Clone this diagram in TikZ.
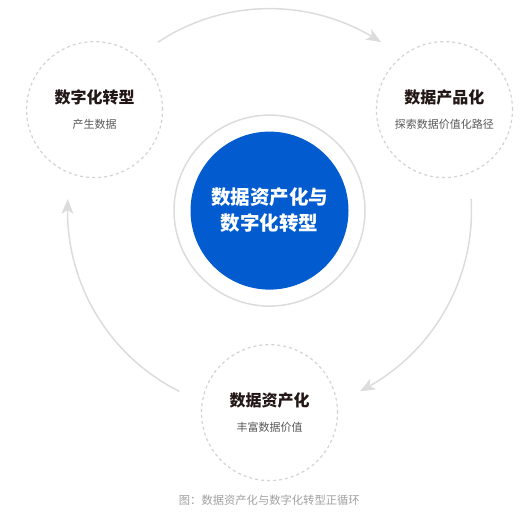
\documentclass[tikz,border=0pt]{standalone}
\usepackage{fontspec}
\newfontfamily\cjk{Noto Sans CJK SC}
\usetikzlibrary{arrows.meta,bending}
\definecolor{coreblue}{HTML}{025CCF}
\definecolor{titlec}{HTML}{231815}
\definecolor{subc}{HTML}{595757}
\definecolor{capc}{HTML}{A0A0A0}
\definecolor{linec}{HTML}{DCDCDC}
\definecolor{dashc}{HTML}{D3D3D3}
\tikzset{
  corecircle/.style={circle, fill=coreblue, minimum size=158pt, inner sep=0pt, text=white, align=center, font=\cjk\bfseries\fontsize{19.5pt}{26pt}\selectfont},
  ringline/.style={draw=linec, line width=1.5pt},
  stagecircle/.style={circle, draw=dashc, line width=1.2pt, dash pattern=on 3pt off 3pt, minimum size=136pt, inner sep=0pt},
  stagetitle/.style={text=titlec, font=\cjk\bfseries\fontsize{16pt}{18pt}\selectfont, inner sep=0pt},
  stagesub/.style={text=subc, font=\cjk\fontsize{11pt}{13pt}\selectfont, inner sep=0pt},
  cycarrow/.style={draw=linec, line width=1.5pt, -{Stealth[length=15pt, width=12pt, inset=4pt, bend]}},
  captext/.style={text=capc, font=\cjk\fontsize{11.3pt}{13pt}\selectfont, inner sep=0pt}
}
\begin{document}
\begin{tikzpicture}[x=1pt,y=1pt]
\useasboundingbox (0,0) rectangle (526,512);
\coordinate (C) at (269.5,301.4);
\draw[ringline] (C) circle[radius=95.5];
\node[corecircle] (core) at (C) {数据资产化与\\数字化转型};
% stages
\path (C) ++(150:202) node[stagecircle] (s1) {};
\path (C) ++(30:202) node[stagecircle] (s2) {};
\path (C) ++(270:202) node[stagecircle] (s3) {};
\node[stagetitle] (t1) at ([yshift=12pt]s1.center) {数字化转型};
\node[stagesub] (u1) at ([yshift=-14.5pt]s1.center) {产生数据};
\node[stagetitle] (t2) at ([yshift=12pt]s2.center) {数据产品化};
\node[stagesub] (u2) at ([yshift=-14.5pt]s2.center) {探索数据价值化路径};
\node[stagetitle] (t3) at ([yshift=12pt]s3.center) {数据资产化};
\node[stagesub] (u3) at ([yshift=-14.5pt]s3.center) {丰富数据价值};
% cycle arrows
\draw[cycarrow] (C) ++(123.5:202) arc[start angle=123.5, end angle=56.5, radius=202];
\draw[cycarrow] (C) ++(3.3:202) arc[start angle=3.3, end angle=-63.4, radius=202];
\draw[cycarrow] (C) ++(243.5:202) arc[start angle=243.5, end angle=176.7, radius=202];
\node[captext] (cap) at (269.3,11.3) {图：数据资产化与数字化转型正循环};
\end{tikzpicture}
\end{document}
